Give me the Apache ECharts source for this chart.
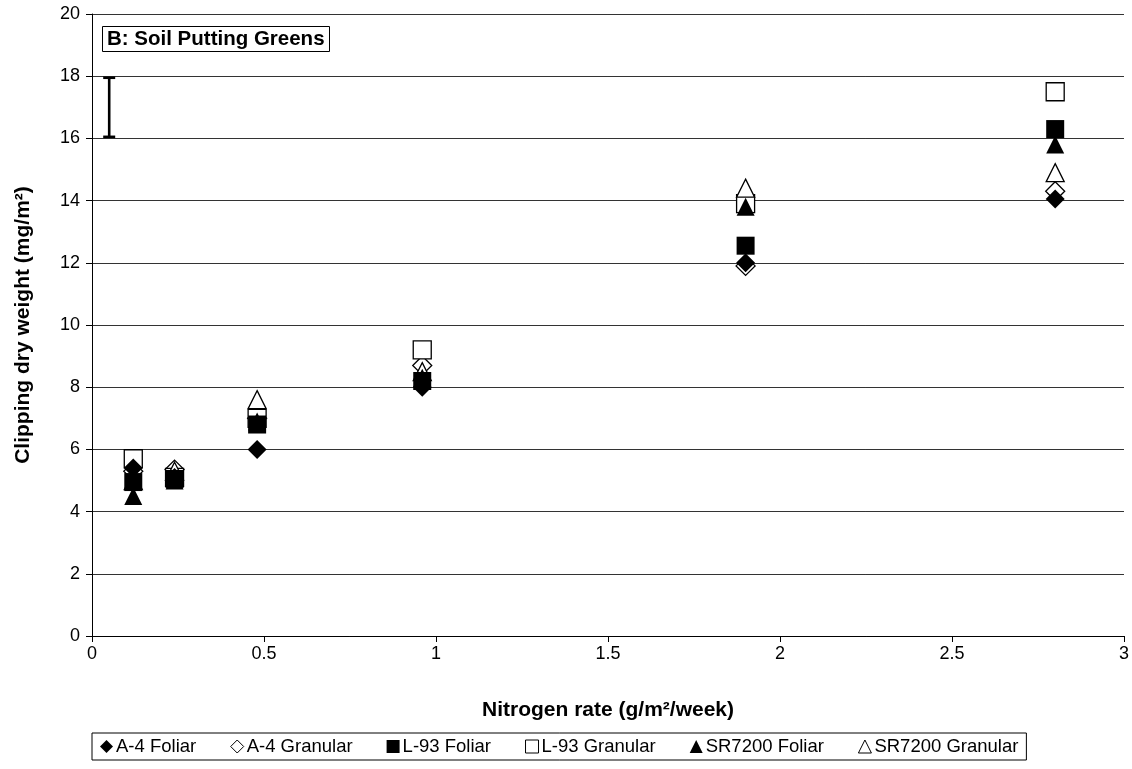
<!DOCTYPE html>
<html>
<head>
<meta charset="utf-8">
<script src="https://cdn.jsdelivr.net/npm/echarts@6/dist/echarts.min.js"></script>
<style>
html,body{margin:0;padding:0;background:#fff;}
#chart{width:1132px;height:769px;}
</style>
</head>
<body>
<div id="chart"></div>
<script>
// Data
var nitrogenRates = [0.12, 0.24, 0.48, 0.96, 1.9, 2.8];
var a4Foliar      = [5.4, 5.1, 6.0, 8.0, 12.0, 14.05];
var a4Granular    = [5.3, 5.35, 7.0, 8.7, 11.9, 14.3];
var l93Foliar     = [4.95, 5.05, 6.8, 8.2, 12.55, 16.3];
var l93Granular   = [5.7, 5.1, 7.0, 9.2, 13.9, 17.5];
var srFoliar      = [4.5, 5.0, 6.9, 8.3, 13.8, 15.8];
var srGranular    = [5.0, 5.3, 7.6, 8.5, 14.4, 14.9];
var errorBar      = {x: 0.05, low: 16.05, high: 17.95};
var seriesNames = ['A-4 Foliar', 'A-4 Granular', 'L-93 Foliar', 'L-93 Granular', 'SR7200 Foliar', 'SR7200 Granular'];
var titleText = 'B: Soil Putting Greens';

var FONT = 'Liberation Sans, Arial, sans-serif';
function pairs(vals){ return nitrogenRates.map(function(x,i){ return [x, vals[i]]; }); }

var defs = [
  {name: seriesNames[0], data: a4Foliar,   symbol: 'diamond',  filled: true},
  {name: seriesNames[1], data: a4Granular, symbol: 'diamond',  filled: false},
  {name: seriesNames[2], data: l93Foliar,  symbol: 'rect',     filled: true},
  {name: seriesNames[3], data: l93Granular,symbol: 'rect',     filled: false},
  {name: seriesNames[4], data: srFoliar,   symbol: 'triangle', filled: true},
  {name: seriesNames[5], data: srGranular, symbol: 'triangle', filled: false}
];

var series = defs.map(function(d, i){
  return {
    name: d.name,
    type: 'scatter',
    data: pairs(d.data),
    symbol: d.symbol,
    symbolSize: d.symbol === 'diamond' ? 19 : 18,
    z: d.filled ? 6 : 4,
    itemStyle: {
      color: d.filled ? '#000' : '#fff',
      borderColor: '#000',
      borderWidth: d.filled ? 0 : 1.3,
      opacity: 1
    },
    emphasis: {disabled: true}
  };
});

series.push({
  name: 'error',
  type: 'custom',
  z: 8,
  data: [[errorBar.x, errorBar.low, errorBar.high]],
  renderItem: function(params, api){
    var lo = api.coord([api.value(0), api.value(1)]);
    var hi = api.coord([api.value(0), api.value(2)]);
    var hw = 6;
    var st = {stroke: '#000', lineWidth: 2.6};
    return {type: 'group', children: [
      {type: 'line', shape: {x1: lo[0], y1: lo[1], x2: hi[0], y2: hi[1]}, style: st},
      {type: 'line', shape: {x1: lo[0]-hw, y1: lo[1], x2: lo[0]+hw, y2: lo[1]}, style: st},
      {type: 'line', shape: {x1: hi[0]-hw, y1: hi[1], x2: hi[0]+hw, y2: hi[1]}, style: st}
    ]};
  },
  silent: true
});

var chart = echarts.init(document.getElementById('chart'), null, {renderer: 'canvas'});
chart.setOption({
  animation: false,
  backgroundColor: '#fff',
  textStyle: {fontFamily: FONT, color: '#000'},
  title: {
    text: titleText,
    left: 102, top: 26,
    padding: [2, 5, 2, 5],
    borderColor: '#000', borderWidth: 1,
    backgroundColor: '#fff',
    textStyle: {fontFamily: FONT, fontSize: 20.5, fontWeight: 'bold', color: '#000', lineHeight: 22}
  },
  legend: {
    data: defs.map(function(d){ return {name: d.name, icon: d.symbol, itemStyle: {color: d.filled ? '#000' : '#fff', borderColor: '#000', borderWidth: d.filled ? 0 : 1}}; }),
    left: 92, top: 733,
    itemWidth: 13, itemHeight: 13, itemGap: 34,
    padding: [4, 8, 4, 8],
    borderColor: '#000', borderWidth: 1,
    textStyle: {fontFamily: FONT, fontSize: 18.5, color: '#000', padding: [0,0,0,-2]},
    selectedMode: false
  },
  grid: {left: 92, right: 8, top: 14, bottom: 133, containLabel: false},
  xAxis: {
    type: 'value', min: 0, max: 3, interval: 0.5,
    name: 'Nitrogen rate (g/m²/week)',
    nameLocation: 'middle', nameGap: 64,
    nameTextStyle: {fontFamily: FONT, fontSize: 21, fontWeight: 'bold', color: '#000'},
    axisLine: {show: true, lineStyle: {color: '#000', width: 1}},
    axisTick: {show: true, inside: false, length: 6, lineStyle: {color: '#000'}},
    axisLabel: {fontFamily: FONT, fontSize: 18, color: '#000', margin: 9},
    splitLine: {show: false}
  },
  yAxis: {
    type: 'value', min: 0, max: 20, interval: 2,
    name: 'Clipping dry weight (mg/m²)',
    nameLocation: 'middle', nameGap: 58,
    nameTextStyle: {fontFamily: FONT, fontSize: 21, fontWeight: 'bold', color: '#000'},
    axisLine: {show: true, lineStyle: {color: '#000', width: 1}},
    axisTick: {show: true, inside: false, length: 6, lineStyle: {color: '#000'}},
    axisLabel: {fontFamily: FONT, fontSize: 18, color: '#000', margin: 12},
    splitLine: {show: true, lineStyle: {color: '#333', width: 1}}
  },
  series: series
});
</script>
</body>
</html>
